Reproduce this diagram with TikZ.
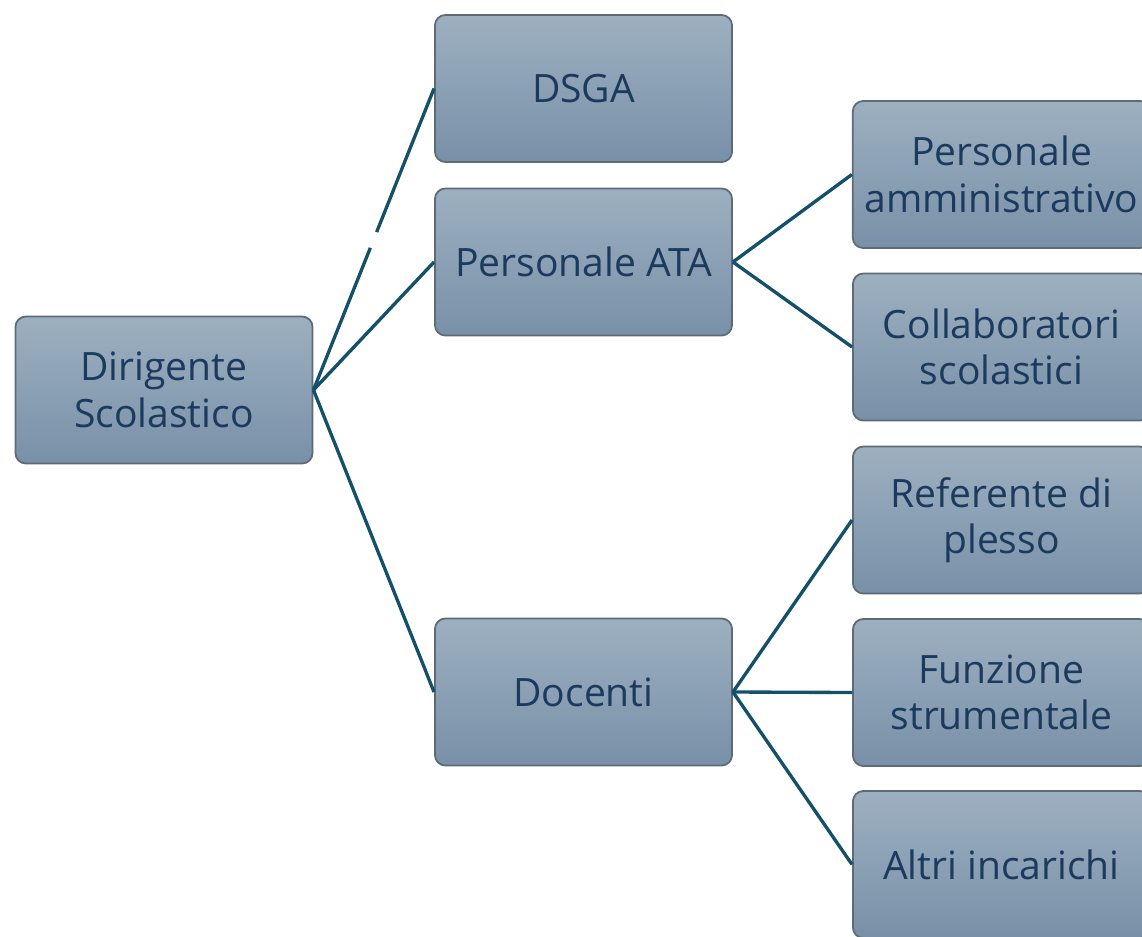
\documentclass[tikz,border=0pt]{standalone}
\usepackage{fontspec}
\setmainfont{Open Sans}
\usetikzlibrary{positioning}
\definecolor{boxtop}{HTML}{9DB0C0}
\definecolor{boxbot}{HTML}{7890A8}
\definecolor{boxedge}{HTML}{5E6A76}
\definecolor{boxtext}{HTML}{1B3A5E}
\definecolor{linkcol}{HTML}{15506B}
\tikzset{
    unit/.style={draw=boxedge,line width=0.5pt,rounded corners=3pt,top color=boxtop,bottom color=boxbot,
        minimum width=2.97cm,minimum height=1.47cm,align=center,text=boxtext,
        font=\fontsize{11.1}{13.2}\selectfont},
    link/.style={draw=linkcol,line width=0.95pt}
}
\begin{document}
\begin{tikzpicture}[x=0.01cm,y=-0.01cm]
    \useasboundingbox (0,0) rectangle (1142,936);
    \clip (0,0) rectangle (1142,936);

    \node[unit] (ds) at (164,390) {Dirigente\\Scolastico};
    \node[unit] (dsga) at (583.5,88.5) {DSGA};
    \node[unit] (ata) at (583.5,262) {Personale ATA};
    \node[unit] (doc) at (583.5,692) {Docenti};

    \node[unit] (amm) at (1001.5,174.5) {Personale\\amministrativo};
    \node[unit] (coll) at (1001.5,347) {Collaboratori\\scolastici};
    \node[unit] (ref) at (1001.5,520) {Referente di\\plesso};
    \node[unit] (fun) at (1001.5,692.5) {Funzione\\strumentale};
    \node[unit] (altri) at (1001.5,864.5) {Altri incarichi};

    % the first link has a small break in it
    \draw[link,dash pattern=on 1.53cm off 0.17cm on 3cm] (ds.east) -- (dsga.west);
    \foreach \b in {ata,doc} {\draw[link] (ds.east) -- (\b.west);}
    \foreach \b in {amm,coll} {\draw[link] (ata.east) -- (\b.west);}
    \foreach \b in {ref,fun,altri} {\draw[link] (doc.east) -- (\b.west);}
\end{tikzpicture}
\end{document}
